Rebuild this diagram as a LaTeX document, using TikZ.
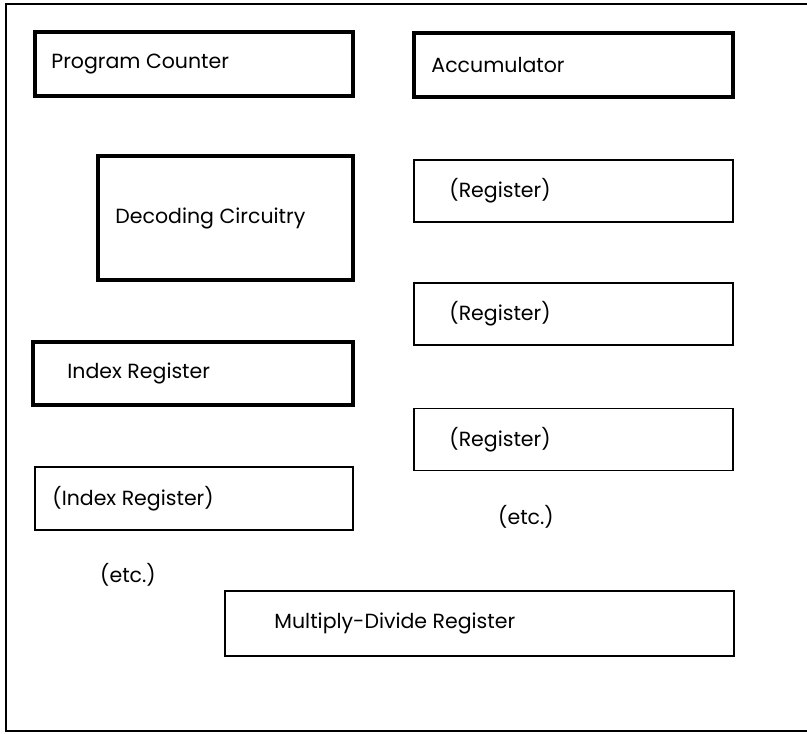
\documentclass[tikz,border=0pt]{standalone}
\usepackage{fontspec}
\setmainfont{Poppins}
\usetikzlibrary{positioning}

\tikzset{
  regbox/.style={draw, line width=1.5pt, inner sep=0pt},
  thickbox/.style={regbox, line width=3.5pt},
  regtext/.style={font=\fontsize{20.5}{24}\selectfont, inner sep=0pt, anchor=west}
}

\begin{document}
\begin{tikzpicture}[x=1pt,y=-1pt]

    \useasboundingbox (0,0) rectangle (807,734);
    % frame, open on the right
    \coordinate (tr) at (807,4);
    \coordinate (br) at (807,731);
    \draw [line width=1.5pt] (tr) -- (6,4) -- (6,731) -- (br);

    % left column
    \node [thickbox, minimum width=318pt, minimum height=64pt] (pc) at (194,64) {};
    \node [regtext, right=18pt of pc.west] (pctext) {Program Counter};

    \node [thickbox, minimum width=255pt, minimum height=124pt] (dec) at (225.5,218) {};
    \node [regtext, right=19pt of dec.west] (dectext) {Decoding Circuitry};

    \node [thickbox, minimum width=320pt, minimum height=63pt] (ix) at (193,373.5) {};
    \node [regtext, right=36pt of ix.west] (ixtext) {Index Register};

    \node [regbox, minimum width=318pt, minimum height=63pt] (ix2) at (194,498.5) {};
    \node [regtext, right=18pt of ix2.west] (ix2text) {(Index Register)};

    \node [regtext, anchor=center] (etcleft) at (128,575) {(etc.)};

    % right column
    \node [thickbox, minimum width=319pt, minimum height=64pt] (acc) at (573.5,65) {};
    \node [regtext, right=19pt of acc.west] (acctext) {Accumulator};

    \foreach \name/\ypos in {rega/191, regb/314, regc/439.5} {
        \node [regbox, minimum width=319pt, minimum height=62pt] (\name) at (573.5,\ypos) {};
        \node [regtext, right=36pt of \name.west] (\name text) {(Register)};
    }

    \node [regtext, anchor=center] (etcright) at (526,517) {(etc.)};

    \node [regbox, minimum width=509pt, minimum height=65pt] (md) at (479.5,623.5) {};
    \node [regtext, right=50pt of md.west] (mdtext) {Multiply-Divide Register};

\end{tikzpicture}
\end{document}
